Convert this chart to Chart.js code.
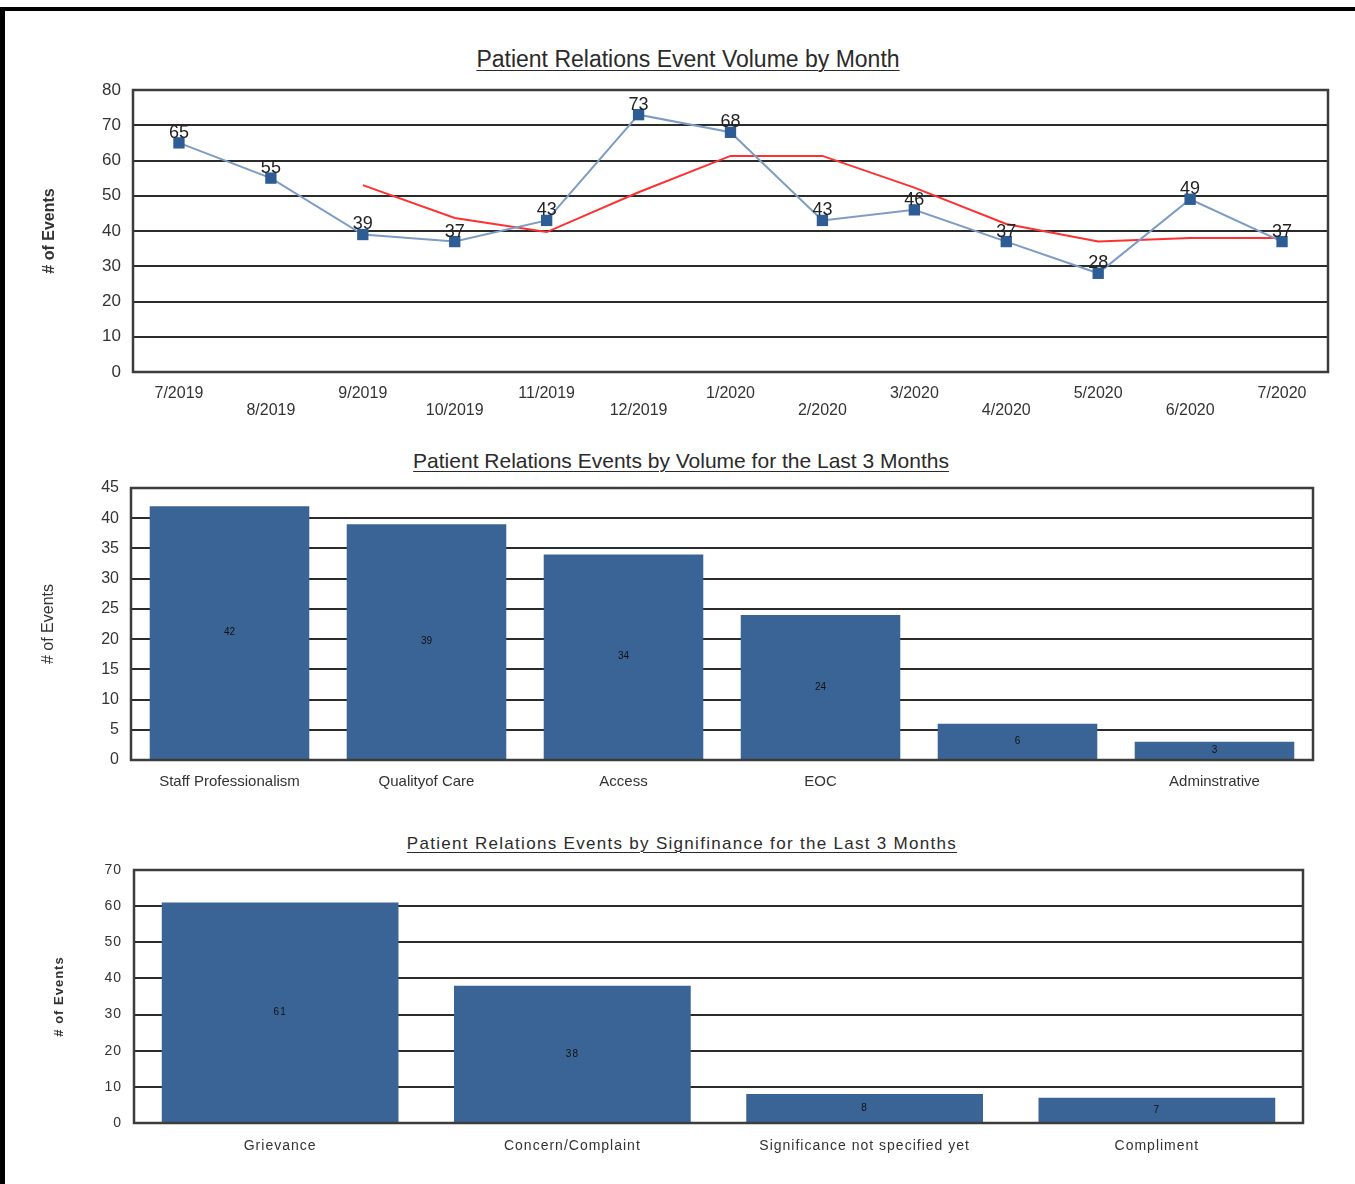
<!DOCTYPE html>
<html>
<head>
<meta charset="utf-8">
<title>Patient Relations</title>
<script src="https://cdn.jsdelivr.net/npm/chart.js@4.4.0/dist/chart.umd.min.js"></script>
<style>
    html, body { margin: 0; padding: 0; background: #fff; }
    #page { position: relative; width: 1355px; height: 1184px; overflow: hidden; font-family: 'Liberation Sans', Arial, sans-serif; }
    .rule-top { position: absolute; left: 0; top: 7px; width: 1355px; height: 4px; background: #000; }
    .rule-left { position: absolute; left: 0; top: 7px; width: 5px; height: 1177px; background: #000; }
    canvas { position: absolute; left: 0; }
    .title { position: absolute; width: 900px; text-align: center; color: #2a2a2a; white-space: nowrap; line-height: 1.15; }
    .title span { text-decoration: underline; text-underline-offset: 3px; text-decoration-thickness: 1px; }
</style>
</head>
<body>
<div id="page">
    <div class="rule-top"></div>
    <div class="rule-left"></div>

    <div class="title" style="left:238px; top:46px; font-size:23px;"><span>Patient Relations Event Volume by Month</span></div>
    <canvas id="monthly-chart" width="1355" height="440" style="top:0;"></canvas>

    <div class="title" style="left:231px; top:449px; font-size:21px;"><span>Patient Relations Events by Volume for the Last 3 Months</span></div>
    <canvas id="volume-chart" width="1355" height="360" style="top:440px;"></canvas>

    <div class="title" style="left:232px; top:834px; font-size:17px; letter-spacing:1.3px;"><span>Patient Relations Events by Signifinance for the Last 3 Months</span></div>
    <canvas id="significance-chart" width="1355" height="364" style="top:820px;"></canvas>
</div>

<script>
(function () {
    'use strict';

    // --- Data ---

    const months = ['7/2019', '8/2019', '9/2019', '10/2019', '11/2019', '12/2019', '1/2020',
        '2/2020', '3/2020', '4/2020', '5/2020', '6/2020', '7/2020'];
    const monthlyEvents = [65, 55, 39, 37, 43, 73, 68, 43, 46, 37, 28, 49, 37];
    const trendLine = [null, null, 53, 43.7, 39.7, 51, 61.3, 61.3, 52.3, 42, 37, 38, 38];

    const volumeCategories = ['Staff Professionalism', 'Qualityof Care', 'Access', 'EOC', '', 'Adminstrative'];
    const volumeCounts = [42, 39, 34, 24, 6, 3];

    const significanceCategories = ['Grievance', 'Concern/Complaint', 'Significance not specified yet', 'Compliment'];
    const significanceCounts = [61, 38, 8, 7];

    // --- Shared look ---

    Chart.defaults.font.family = "'Liberation Sans', Arial, sans-serif";
    Chart.defaults.color = '#222';
    Chart.defaults.animation = false;

    const BAR_BLUE = '#3a6496';
    const GRID = '#2b2b2b';

    // box round the plot area, drawn last so bars sit on it
    const frame = {
        id: 'frame',
        afterDraw(chart) {
            const a = chart.chartArea;
            const ctx = chart.ctx;
            ctx.save();
            ctx.strokeStyle = '#3c3c3c';
            ctx.lineWidth = 2.5;
            ctx.strokeRect(a.left, a.top, a.right - a.left, a.bottom - a.top);
            ctx.restore();
        },
    };

    // numbers printed on the marks
    const valueLabels = {
        id: 'valueLabels',
        afterDatasetsDraw(chart, args, opts) {
            const ctx = chart.ctx;
            const meta = chart.getDatasetMeta(0);
            const values = chart.data.datasets[0].data;
            ctx.save();
            ctx.font = opts.font;
            ctx.fillStyle = opts.color;
            ctx.textAlign = 'center';
            ctx.textBaseline = 'middle';
            meta.data.forEach((el, i) => {
                if (opts.inside) {
                    ctx.fillText(values[i], el.x, (el.y + el.base) / 2);
                } else {
                    ctx.fillText(values[i], el.x, el.y - opts.lift);
                }
            });
            ctx.restore();
        },
    };

    const spacing = {
        id: 'spacing',
        beforeDraw(chart, args, opts) {
            chart.ctx.letterSpacing = opts.px || '0px';
        },
    };

    function yAxis(max, step, width, titleSize, titlePad, tickSize, titleBold) {
        return {
            min: 0,
            max: max,
            afterFit: (scale) => { scale.width = width; },
            ticks: { stepSize: step, padding: 12, font: { size: tickSize }, color: '#333' },
            grid: { color: GRID, lineWidth: 2, drawTicks: false },
            border: { display: false },
            title: {
                display: true,
                text: '# of Events',
                color: '#333',
                font: { size: titleSize, weight: titleBold ? 'bold' : 'normal' },
                padding: { top: titlePad, bottom: 0 },
            },
        };
    }

    // --- Monthly volume ---

    new Chart(document.getElementById('monthly-chart'), {
        type: 'line',
        data: {
            labels: months,
            datasets: [
                {
                    label: 'Events',
                    data: monthlyEvents,
                    borderColor: '#7d9cc5',
                    borderWidth: 2,
                    pointStyle: 'rect',
                    pointRadius: 8,
                    pointBackgroundColor: '#2e5c94',
                    pointBorderColor: '#2e5c94',
                    pointBorderWidth: 0,
                    tension: 0,
                },
                {
                    label: 'Trend',
                    data: trendLine,
                    borderColor: '#ff3030',
                    borderWidth: 2,
                    pointRadius: 0,
                    tension: 0,
                    spanGaps: false,
                },
            ],
        },
        options: {
            responsive: false,
            devicePixelRatio: 1,
            layout: { padding: { top: 90, right: 27, left: 0, bottom: 0 } },
            plugins: {
                legend: { display: false },
                tooltip: { enabled: false },
                valueLabels: { font: "18px 'Liberation Sans', Arial", color: '#222', lift: 10 },
            },
            scales: {
                x: {
                    offset: true,
                    afterFit: (scale) => { scale.height = 440 - 372; },
                    grid: { display: false },
                    border: { display: false },
                    ticks: {
                        autoSkip: false,
                        maxRotation: 0,
                        padding: 5,
                        color: '#333',
                        font: { size: 16, lineHeight: 1.0625 },
                        callback: function (value, index) {
                            const label = this.getLabelForValue(value);
                            return index % 2 === 0 ? [label, ''] : ['', label];
                        },
                    },
                },
                y: yAxis(80, 10, 133, 16, 40, 17, true),
            },
        },
        plugins: [frame, valueLabels],
    });

    // --- Volume by category ---

    new Chart(document.getElementById('volume-chart'), {
        type: 'bar',
        data: {
            labels: volumeCategories,
            datasets: [{
                label: 'Events',
                data: volumeCounts,
                backgroundColor: BAR_BLUE,
                categoryPercentage: 1,
                barPercentage: 0.81,
            }],
        },
        options: {
            responsive: false,
            devicePixelRatio: 1,
            layout: { padding: { top: 48, right: 42, left: 0, bottom: 0 } },
            plugins: {
                legend: { display: false },
                tooltip: { enabled: false },
                valueLabels: { font: "10px 'Liberation Sans', Arial", color: '#111', inside: true },
            },
            scales: {
                x: {
                    afterFit: (scale) => { scale.height = 360 - 320; },
                    grid: { display: false },
                    border: { display: false },
                    ticks: { autoSkip: false, maxRotation: 0, padding: 5, color: '#333', font: { size: 15 } },
                },
                y: yAxis(45, 5, 131, 16, 39, 16, false),
            },
        },
        plugins: [frame, valueLabels],
    });

    // --- Significance ---

    new Chart(document.getElementById('significance-chart'), {
        type: 'bar',
        data: {
            labels: significanceCategories,
            datasets: [{
                label: 'Events',
                data: significanceCounts,
                backgroundColor: BAR_BLUE,
                categoryPercentage: 1,
                barPercentage: 0.81,
            }],
        },
        options: {
            responsive: false,
            devicePixelRatio: 1,
            layout: { padding: { top: 50, right: 52, left: 0, bottom: 0 } },
            plugins: {
                legend: { display: false },
                tooltip: { enabled: false },
                spacing: { px: '1px' },
                valueLabels: { font: "10px 'Liberation Sans', Arial", color: '#111', inside: true },
            },
            scales: {
                x: {
                    afterFit: (scale) => { scale.height = 364 - 303; },
                    grid: { display: false },
                    border: { display: false },
                    ticks: { autoSkip: false, maxRotation: 0, padding: 7, color: '#333', font: { size: 14 } },
                },
                y: yAxis(70, 10, 134, 13, 52, 14, true),
            },
        },
        plugins: [spacing, frame, valueLabels],
    });
})();
</script>
</body>
</html>
